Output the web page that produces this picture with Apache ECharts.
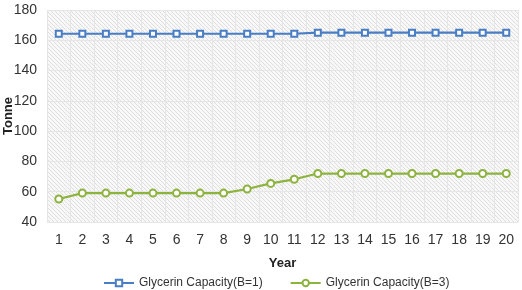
<!DOCTYPE html>
<html><head><meta charset="utf-8">
<script src="https://cdn.jsdelivr.net/npm/echarts@6/dist/echarts.min.js"></script>
<style>html,body{margin:0;padding:0;background:#fff}#c{width:522px;height:290px}</style>
</head><body><div id="c"></div>
<script>
const years = ['1','2','3','4','5','6','7','8','9','10','11','12','13','14','15','16','17','18','19','20'];
const capB1 = [164.3,164.3,164.3,164.3,164.3,164.3,164.3,164.3,164.3,164.3,164.3,165,165,165,165,165,165,165,165,165];
const capB3 = [55.2,59.1,59.1,59.1,59.1,59.1,59.1,59.1,61.8,65.5,68.2,72,72,72,72,72,72,72,72,72];
const seriesNames = ['Glycerin Capacity(B=1)','Glycerin Capacity(B=3)'];

const pc = document.createElement('canvas');
pc.width = 4; pc.height = 4;
const g = pc.getContext('2d');
g.fillStyle = '#f8f8f8'; g.fillRect(0,0,4,4);
g.strokeStyle = '#dedede'; g.lineWidth = 1;
g.beginPath();
g.moveTo(0,0); g.lineTo(4,4);
g.moveTo(-2,2); g.lineTo(2,6);
g.moveTo(2,-2); g.lineTo(6,2);
g.stroke();

const chart = echarts.init(document.getElementById('c'));
const font = '"Liberation Sans", Arial, sans-serif';
chart.setOption({
  animation: false,
  grid: {left: 47, right: 4, top: 10, bottom: 68, show: true, borderWidth: 0,
         outerBoundsMode: 'none', containLabel: false,
         backgroundColor: {image: pc, repeat: 'repeat'}},
  legend: {top: 272, left: 98, itemWidth: 30, itemHeight: 8, itemGap: 27,
           textStyle: {fontFamily: font, fontSize: 12, color: '#333'},
           data: seriesNames},
  xAxis: {type: 'category', data: years, boundaryGap: true,
          name: 'Year', nameLocation: 'middle', nameGap: 35,
          nameTextStyle: {fontFamily: font, fontSize: 13, fontWeight: 'bold', color: '#222'},
          axisLine: {show: false}, axisTick: {show: false},
          axisLabel: {fontFamily: font, fontSize: 14, color: '#333', margin: 11},
          splitLine: {show: true, interval: 0, lineStyle: {color: '#e6e6e6', width: 1}}},
  yAxis: {type: 'value', min: 40, max: 180, interval: 20,
          name: 'Tonne', nameLocation: 'middle', nameGap: 32, nameRotate: 90,
          nameMoveOverlap: false,
          nameTextStyle: {fontFamily: font, fontSize: 13, fontWeight: 'bold', color: '#222'},
          axisLine: {show: false}, axisTick: {show: false},
          axisLabel: {fontFamily: font, fontSize: 14, color: '#333', margin: 10},
          splitLine: {lineStyle: {color: '#e6e6e6', width: 1}}},
  series: [
    {name: seriesNames[0], type: 'line', data: capB1, symbol: 'emptyRect', symbolSize: 6,
     lineStyle: {color: '#4a7ec4', width: 2.2}, itemStyle: {color: '#4a7ec4', borderWidth: 1.5}},
    {name: seriesNames[1], type: 'line', data: capB3, symbol: 'emptyCircle', symbolSize: 7,
     lineStyle: {color: '#8db33f', width: 2.2}, itemStyle: {color: '#8db33f', borderWidth: 1.5}}
  ]
});
</script></body></html>
